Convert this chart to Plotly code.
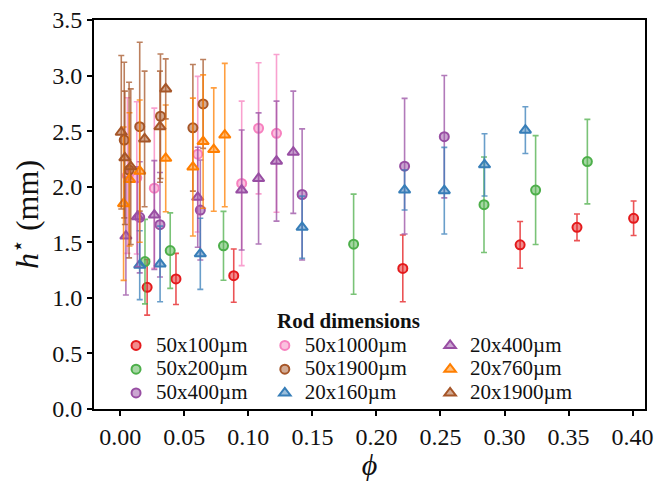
import plotly.graph_objects as go

# ---- data (phi, h*, error) ----
names = ["50x100µm", "50x200µm", "50x400µm", "50x1000µm", "50x1900µm",
         "20x160µm", "20x400µm", "20x760µm", "20x1900µm"]

x_50x100 = [0.021, 0.0435, 0.0886, 0.2206, 0.3122, 0.3566, 0.4008]
y_50x100 = [1.095, 1.17, 1.20, 1.265, 1.477, 1.635, 1.716]
e_50x100 = [0.25, 0.23, 0.24, 0.30, 0.21, 0.12, 0.155]

x_50x200 = [0.0193, 0.039, 0.0806, 0.1822, 0.284, 0.3243, 0.3647]
y_50x200 = [1.326, 1.425, 1.468, 1.483, 1.838, 1.97, 2.226]
e_50x200 = [0.38, 0.34, 0.31, 0.45, 0.43, 0.49, 0.38]

x_50x400 = [0.0152, 0.031, 0.0625, 0.142, 0.222, 0.253]
y_50x400 = [1.725, 1.658, 1.79, 1.93, 2.185, 2.45]
e_50x400 = [0.50, 0.47, 0.45, 0.59, 0.61, 0.55]

x_50x1000 = [0.0056, 0.0129, 0.0266, 0.0605, 0.0948, 0.108, 0.122]
y_50x1000 = [2.10, 2.08, 1.987, 2.293, 2.03, 2.526, 2.48]
e_50x1000 = [0.70, 0.685, 0.72, 0.70, 0.74, 0.59, 0.71]

x_50x1900 = [0.0031, 0.0069, 0.0152, 0.0314, 0.0567, 0.0647]
y_50x1900 = [2.42, 2.15, 2.54, 2.634, 2.53, 2.745]
e_50x1900 = [0.70, 0.79, 0.76, 0.56, 0.57, 0.40]

x_20x160 = [0.0152, 0.0311, 0.0625, 0.142, 0.222, 0.253, 0.2844, 0.3163]
y_20x160 = [1.294, 1.305, 1.396, 1.635, 1.97, 1.964, 2.197, 2.509]
e_20x160 = [0.31, 0.34, 0.32, 0.28, 0.18, 0.39, 0.28, 0.21]

x_20x400 = [0.0044, 0.0134, 0.0266, 0.0605, 0.0948, 0.108, 0.122, 0.1351]
y_20x400 = [1.556, 1.73, 1.745, 1.905, 1.97, 2.074, 2.23, 2.31]
e_20x400 = [0.53, 0.45, 0.49, 0.45, 0.54, 0.59, 0.54, 0.55]

x_20x760 = [0.0026, 0.0072, 0.0152, 0.0355, 0.0567, 0.0647, 0.073, 0.0816]
y_20x760 = [1.847, 2.066, 2.14, 2.255, 2.177, 2.406, 2.334, 2.465]
e_20x760 = [0.69, 0.60, 0.64, 0.48, 0.62, 0.60, 0.555, 0.645]

x_20x1900 = [0.0008, 0.0036, 0.0082, 0.019, 0.031, 0.0355]
y_20x1900 = [2.49, 2.26, 2.18, 2.43, 2.54, 2.88]
e_20x1900 = [0.69, 0.60, 0.70, 0.61, 0.50, 0.27]

xs = [x_50x100, x_50x200, x_50x400, x_50x1000, x_50x1900, x_20x160, x_20x400, x_20x760, x_20x1900]
ys = [y_50x100, y_50x200, y_50x400, y_50x1000, y_50x1900, y_20x160, y_20x400, y_20x760, y_20x1900]
es = [e_50x100, e_50x200, e_50x400, e_50x1000, e_50x1900, e_20x160, e_20x400, e_20x760, e_20x1900]

colors = [(228, 26, 28), (77, 175, 74), (152, 78, 163), (247, 129, 191), (166, 86, 40),
          (55, 126, 184), (152, 78, 163), (255, 127, 0), (166, 86, 40)]
symbols = ["circle"] * 5 + ["triangle-up"] * 4
legend_ids = ["legend"] * 3 + ["legend2"] * 3 + ["legend3"] * 3

x_ticks = [0.0, 0.05, 0.10, 0.15, 0.20, 0.25, 0.30, 0.35, 0.40]
y_ticks = [0.0, 0.5, 1.0, 1.5, 2.0, 2.5, 3.0, 3.5]

FONT = "Liberation Serif"

fig = go.Figure()
for i in range(len(names)):
    r, g, b = colors[i]
    fig.add_trace(go.Scatter(
        x=xs[i], y=ys[i], mode="markers",
        name=f'<span style="font-size:21px">{names[i]}</span>',
        legend=legend_ids[i],
        error_y=dict(type="data", array=es[i], color=f"rgba({r},{g},{b},0.75)",
                     thickness=1.6, width=3),
        marker=dict(symbol=symbols[i], size=9 if symbols[i] == "circle" else 10,
                    color=f"rgba({r},{g},{b},0.5)",
                    line=dict(color=f"rgb({r},{g},{b})", width=2)),
    ))

leg_common = dict(yanchor="top", xanchor="left", bgcolor="rgba(0,0,0,0)",
                  font=dict(family=FONT, size=16, color="#111"), tracegroupgap=0,
                  y=0.207)
axis_common = dict(showgrid=False, zeroline=False, showline=True, mirror=True,
                   linecolor="black", linewidth=2, ticks="outside", ticklen=5,
                   tickwidth=1.5, tickcolor="black", ticklabeloverflow="allow",
                   tickfont=dict(family=FONT, size=24, color="#111"))
fig.update_layout(
    width=660, height=481,
    margin=dict(l=94, r=7, t=12, b=68),
    plot_bgcolor="white", paper_bgcolor="white",
    font=dict(family=FONT, color="#111"),
    legend=dict(x=0.04, **leg_common),
    legend2=dict(x=0.31, **leg_common),
    legend3=dict(x=0.61, **leg_common),
    xaxis=dict(range=[-0.0205, 0.4097], tickvals=x_ticks, tickformat=".2f",
               title=dict(text="<i>ϕ</i>", font=dict(family=FONT, size=30), standoff=3),
               **axis_common),
    yaxis=dict(range=[0, 3.5], tickvals=y_ticks, tickformat=".1f",
               title=dict(text="<i>h</i><sup>⋆</sup> (mm)", font=dict(family=FONT, size=32),
                          standoff=4),
               **axis_common),
    annotations=[dict(text="<b>Rod dimensions</b>", xref="paper", yref="paper",
                      x=0.462, y=0.227, xanchor="center", yanchor="middle",
                      showarrow=False, font=dict(family=FONT, size=21, color="#111"))],
)

fig.write_html("out.html", config={"displayModeBar": False},
               post_script="document.body.style.margin='0px';")
